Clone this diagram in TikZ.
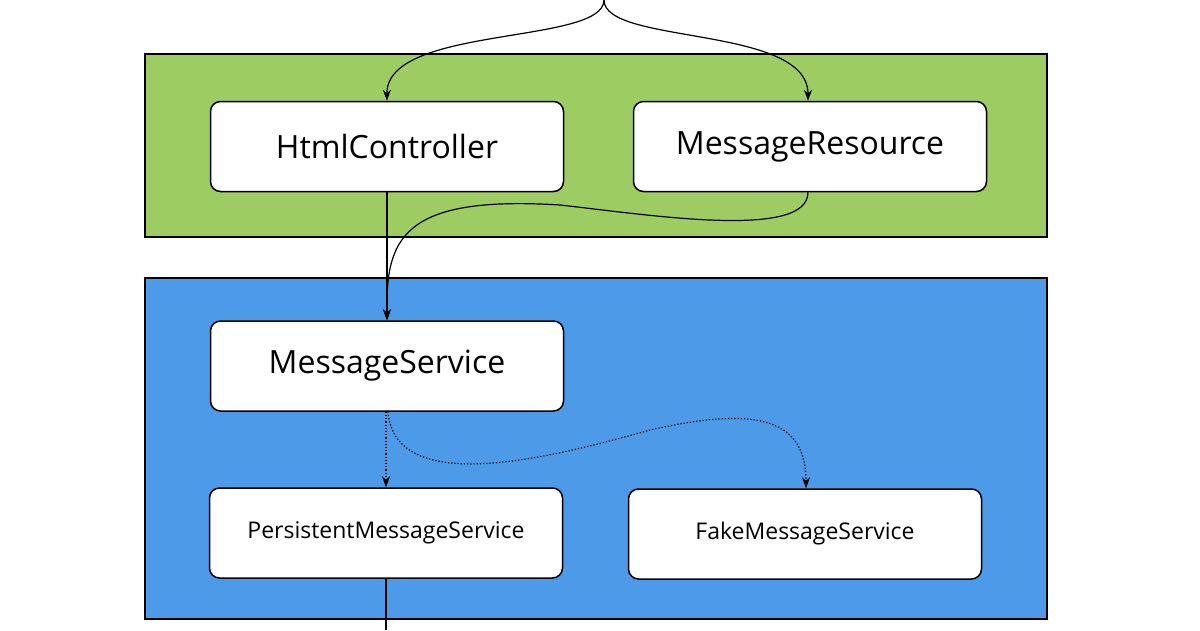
\documentclass[tikz,border=0pt]{standalone}
\usepackage{fontspec}
\setmainfont{Open Sans}
\usetikzlibrary{arrows.meta}
\definecolor{grn}{HTML}{9CCC62}
\definecolor{blu}{HTML}{4C9AE8}
\begin{document}
\begin{tikzpicture}[x=1pt,y=-1pt,
 box/.style={draw=black,line width=1.5pt,fill=white,rounded corners=10pt,minimum width=353pt,minimum height=90pt,inner sep=0pt},
 big/.style={font=\fontsize{32}{36}\selectfont},
 small/.style={font=\fontsize{23}{26}\selectfont},
 pane/.style={draw=black,line width=1.5pt},
 con/.style={line width=1.2pt,-{Stealth[length=11pt,width=8pt]}}]
\useasboundingbox (0,0) rectangle (1200,630);
\draw[pane,fill=grn] (145,54) rectangle (1047,237);
\draw[pane,fill=blu] (145,278) rectangle (1047,619);
\node[box,big] (hc) at (387,146.5) {HtmlController};
\node[box,big] (mr) at (810,146.5) {MessageResource};
\node[box,big] (ms) at (387,366) {MessageService};
\node[box,small] (pm) at (386,533) {PersistentMessageService};
\node[box,small] (fm) at (805,534) {FakeMessageService};
\coordinate (top) at (604,0);
\coordinate (bot) at (386,630);
\draw[con] (top) .. controls (604,45) and (386,25) .. (hc.north);
\draw[con] (top) .. controls (604,45) and (808,25) .. (mr.north -| 808,0);
\draw[con] (hc.south) -- (ms.north);
\draw[con] (mr.south -| 808,0) .. controls (808,240) and (650,215) .. (560,205) .. controls (400,195) and (386,240) .. (ms.north);
\draw[con,dotted] (ms.south -| 386,0) -- (pm.north -| 386,0);
\draw[con,dotted] (ms.south -| 388,0) .. controls (395,500) and (560,455) .. (650,430) .. controls (760,405) and (806,420) .. (fm.north -| 806,0);
\draw[line width=1.2pt] (pm.south -| 386,0) -- (bot);
\end{tikzpicture}
\end{document}
